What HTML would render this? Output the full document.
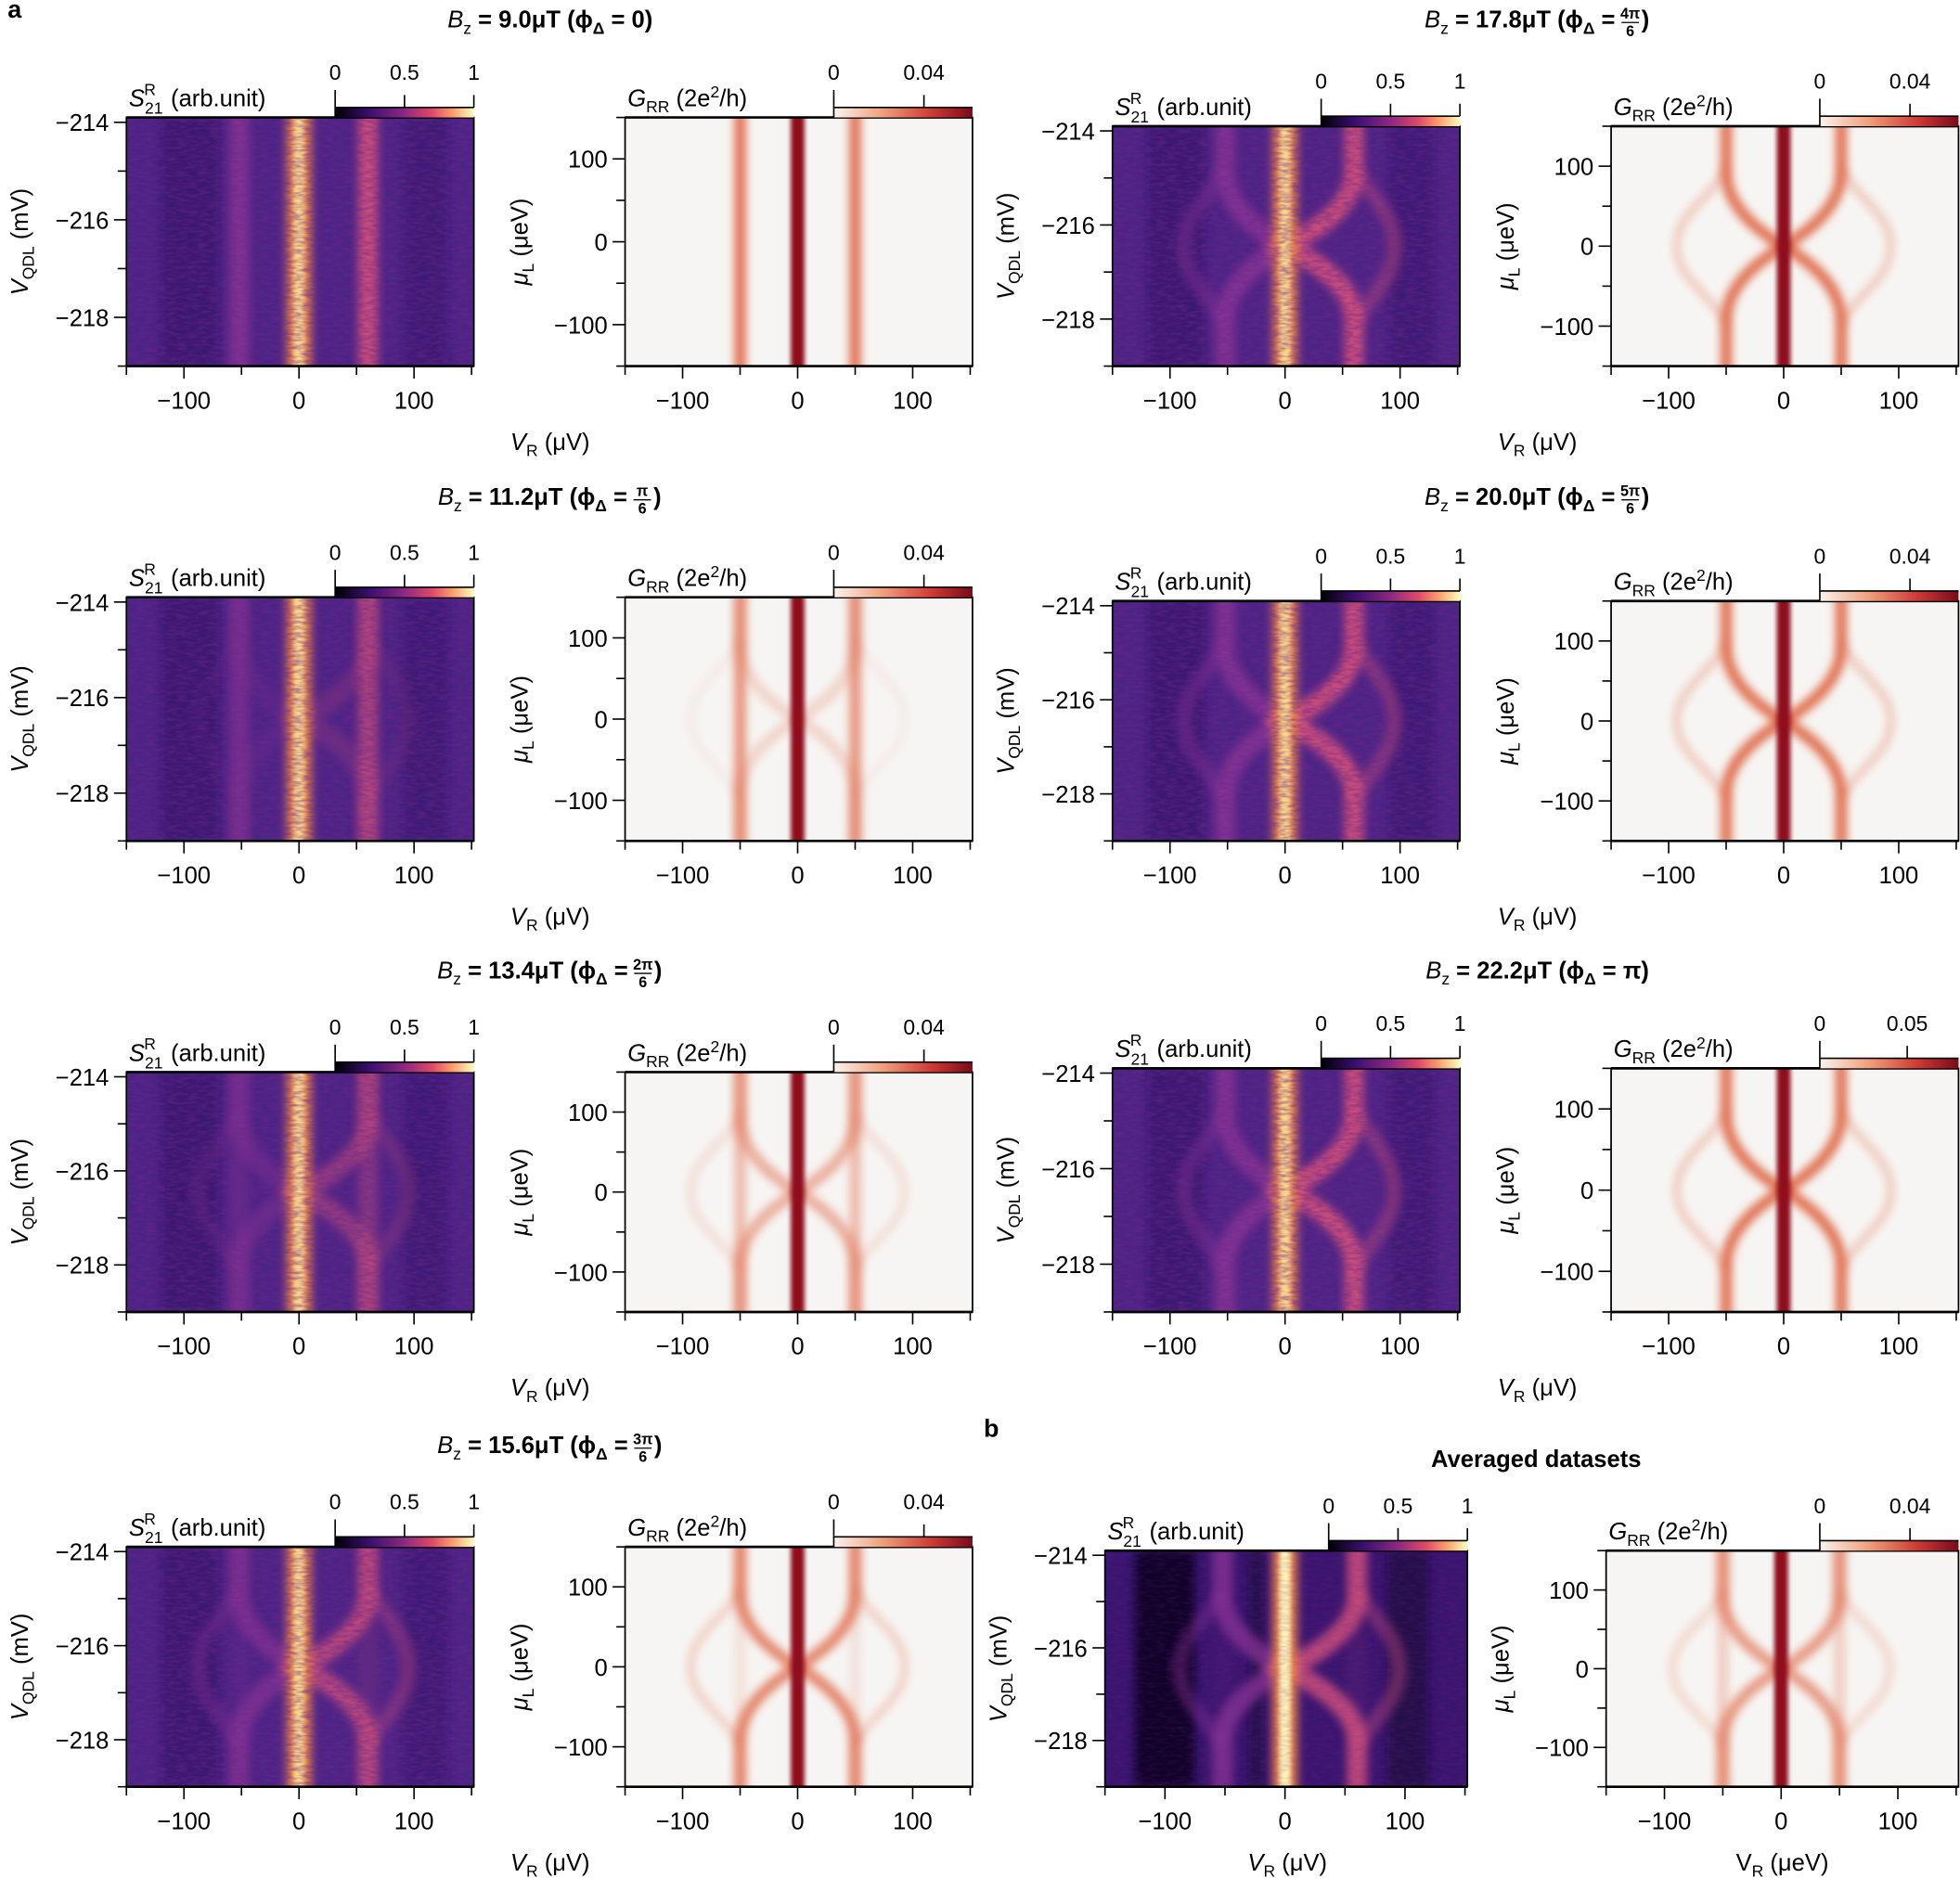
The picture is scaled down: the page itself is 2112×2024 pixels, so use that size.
<!DOCTYPE html>
<html><head><meta charset="utf-8"><style>
html,body{margin:0;padding:0;background:#fff;}
svg{display:block;font-family:"Liberation Sans",Arial,sans-serif;}
</style></head><body>
<svg id="s" xmlns="http://www.w3.org/2000/svg" width="2112" height="2024" viewBox="0 0 1568 1503">
<defs>
<linearGradient id="magma" x1="0" x2="1" y1="0" y2="0">
<stop offset="0" stop-color="#000004"/><stop offset="0.25" stop-color="#3b0f70"/><stop offset="0.5" stop-color="#8c2981"/><stop offset="0.7" stop-color="#de4968"/><stop offset="0.85" stop-color="#fe9f6d"/><stop offset="1" stop-color="#fcfdbf"/>
</linearGradient>
<linearGradient id="reds" x1="0" x2="1" y1="0" y2="0">
<stop offset="0" stop-color="#fbf3ee"/><stop offset="0.35" stop-color="#f0a07c"/><stop offset="0.7" stop-color="#cf3b35"/><stop offset="1" stop-color="#7a0a1a"/>
</linearGradient>
<filter id="bl" filterUnits="userSpaceOnUse" x="0" y="0" width="1568" height="1503"><feGaussianBlur stdDeviation="3.5"/></filter>
<filter id="bl2" filterUnits="userSpaceOnUse" x="0" y="0" width="1568" height="1503"><feGaussianBlur stdDeviation="1.8"/></filter>
<filter id="nz" x="0" y="0" width="100%" height="100%">
<feTurbulence type="fractalNoise" baseFrequency="0.12 0.45" numOctaves="2" seed="3"/>
<feColorMatrix type="matrix" values="0 0 0 0 0.15  0 0 0 0 0.02  0 0 0 0 0.25  0 0 0 1.3 -0.45"/>
</filter>
</defs>
<g id="root"></g>
</svg>
<script>
const NS="http://www.w3.org/2000/svg";
const root=document.getElementById('root');
let uid=0;
function el(tag,attrs,parent,text){const e=document.createElementNS(NS,tag);for(const k in attrs)e.setAttribute(k,attrs[k]);if(text!==undefined)e.textContent=text;(parent||root).appendChild(e);return e;}
function htmlText(x,y,html,attrs){const t=el('text',Object.assign({x:x,y:y},attrs||{}));t.innerHTML=html;return t;}

function panel(x0,top,w,bot,type,s,avg){
  const h=bot-top;
  const id='c'+(uid++);
  const cp=el('clipPath',{id:id});el('rect',{x:x0,y:top,width:w,height:h},cp);
  const g=el('g',{'clip-path':'url(#'+id+')'});
  const px=v=>x0+(v+150)/302*w;
  const py=t=>top+(t+1)/2*h;
  const P=(a,b)=>px(a).toFixed(1)+','+py(b).toFixed(1);
  function sides(list,outW,outOp){
    for(const [side,sg,col,op,wid,outerX] of list){
      const xs=v=>v*sg;
      if(1-s>0.01) el('path',{d:`M${P(xs(side),-1.1)} L${P(xs(side),1.1)}`,stroke:col,'stroke-width':wid,fill:'none',opacity:op*(1-s),filter:'url(#bl)'},g);
      if(s>0.01){
        const inner=`M${P(xs(side),-1.1)} L${P(xs(side),-0.6)} C${P(xs(side*0.97),-0.3)} ${P(xs(side*0.35),-0.1)} ${P(0,0)} C${P(xs(side*0.35),0.1)} ${P(xs(side*0.97),0.3)} ${P(xs(side),0.6)} L${P(xs(side),1.1)}`;
        el('path',{d:inner,stroke:col,'stroke-width':wid,fill:'none',opacity:op*s,filter:'url(#bl)'},g);
        const outer=`M${P(xs(side),-0.65)} C${P(xs(side*1.25),-0.4)} ${P(xs(outerX),-0.28)} ${P(xs(outerX),0)} C${P(xs(outerX),0.28)} ${P(xs(side*1.25),0.4)} ${P(xs(side),0.65)}`;
        el('path',{d:outer,stroke:col,'stroke-width':outW,fill:'none',opacity:outOp*s,filter:'url(#bl)'},g);
      }
    }
  }
  if(type==='G'){
    el('rect',{x:x0,y:top,width:w,height:h,fill:'#f7f5f3'},g);
    sides([[50,-1,'#e06e50',1,9,93],[50,1,'#e06e50',1,9,93]],6,0.35);
    el('rect',{x:px(0)-5.5,y:top-5,width:11,height:h+10,fill:'#8f0f1e',filter:'url(#bl2)'},g);
  } else {
    el('rect',{x:x0,y:top,width:w,height:h,fill:avg?'#3a1570':'#4c2485'},g);
    if(avg){
      el('rect',{x:px(-125),y:top,width:px(-75)-px(-125),height:h,fill:'#0e0620',filter:'url(#bl)',opacity:0.9},g);
      el('rect',{x:px(85),y:top,width:px(120)-px(85),height:h,fill:'#1a0a3a',filter:'url(#bl)',opacity:0.7},g);
      el('rect',{x:px(-30),y:top,width:px(-18)-px(-30),height:h,fill:'#1a0a3a',filter:'url(#bl)',opacity:0.7},g);
    } else {
      el('rect',{x:px(-120),y:top,width:px(-70)-px(-120),height:h,fill:'#2c1060',filter:'url(#bl)',opacity:0.5},g);
      el('rect',{x:px(90),y:top,width:px(130)-px(90),height:h,fill:'#2c1060',filter:'url(#bl)',opacity:0.4},g);
    }
    sides([[52,-1,'#8a3596',0.85,16,88],[60,1,'#cf4f7c',0.95,16,95]],12,0.45);
    el('rect',{x:px(0)-10,y:top-5,width:20,height:h+10,fill:'#e8804a',filter:'url(#bl)'},g);
    el('rect',{x:px(0)-4.5,y:top-5,width:9,height:h+10,fill:avg?'#fdf3b8':'#fbd48a',filter:'url(#bl2)'},g);
    el('rect',{x:x0,y:top,width:w,height:h,filter:'url(#nz)',opacity:avg?0.3:0.85},g);
  }
  el('rect',{x:x0,y:top,width:w,height:h,fill:'none',stroke:'#000','stroke-width':1.3});
  el('line',{x1:x0,y1:top,x2:x0+w,y2:top,stroke:'#000','stroke-width':2});
  el('line',{x1:x0,y1:bot,x2:x0+w,y2:bot,stroke:'#000','stroke-width':2});
  for(let v=-150;v<=150;v+=50){
    const X=px(v);const major=(v%100===0);
    el('line',{x1:X,y1:bot,x2:X,y2:bot+(major?10:7),stroke:'#000','stroke-width':1.2});
    if(major) el('text',{x:X,y:bot+34,'font-size':19,'text-anchor':'middle'},undefined,(v<0?'\u2212':'')+Math.abs(v));
  }
  if(type==='G'){
    for(let m=-150;m<=150;m+=50){
      const Y=top+(150-m)/300*h;const major=(m%100===0);
      el('line',{x1:x0,y1:Y,x2:x0-(major?10:7),y2:Y,stroke:'#000','stroke-width':1.2});
      if(major) el('text',{x:x0-14,y:Y+7,'font-size':19,'text-anchor':'end'},undefined,(m<0?'\u2212':'')+Math.abs(m));
    }
    htmlText(x0+2,top-9,'<tspan font-style="italic">G</tspan><tspan font-size="13" dy="5">RR</tspan><tspan dy="-5"> (2e</tspan><tspan font-size="13" dy="-7">2</tspan><tspan dy="7">/h)</tspan>',{'font-size':19});
    const cx=x0-85,cy=(top+bot)/2;
    htmlText(cx,cy+7,'<tspan font-style="italic">μ</tspan><tspan font-size="13" dy="5">L</tspan><tspan dy="-5"> (μeV)</tspan>',{'font-size':19,'text-anchor':'middle',transform:`rotate(-90 ${cx} ${cy})`});
  } else {
    for(let V=-214;V>=-219;V-=1){
      const Y=top+(-213.9-V)/5.1*h;const major=(V%2===0);
      el('line',{x1:x0,y1:Y,x2:x0-(major?10:7),y2:Y,stroke:'#000','stroke-width':1.2});
      if(major) el('text',{x:x0-14,y:Y+7,'font-size':19,'text-anchor':'end'},undefined,'\u2212'+Math.abs(V));
    }
    htmlText(x0+2,top-9,'<tspan font-style="italic">S</tspan><tspan font-size="13" dy="6">21</tspan><tspan font-size="13" dx="-15" dy="-15">R</tspan><tspan dy="9" dx="12">(arb.unit)</tspan>',{'font-size':19});
    const cx=x0-86,cy=(top+bot)/2;
    htmlText(cx,cy+7,'<tspan font-style="italic">V</tspan><tspan font-size="13" dy="5">QDL</tspan><tspan dy="-5"> (mV)</tspan>',{'font-size':19,'text-anchor':'middle',transform:`rotate(-90 ${cx} ${cy})`});
  }
  const cbx=x0+w-111,cbw=111;
  el('rect',{x:cbx,y:top-8,width:cbw,height:8,fill:type==='G'?'url(#reds)':'url(#magma)'});
  el('line',{x1:cbx,y1:top-8,x2:cbx+cbw,y2:top-8,stroke:'#000','stroke-width':1.2});
  if(type==='G'){
    const lab=avg==='5'?['0','0.05',0.63]:['0','0.04',0.65];
    el('line',{x1:cbx,y1:top-22,x2:cbx,y2:top,stroke:'#000','stroke-width':1.2});
    el('line',{x1:cbx+cbw*lab[2],y1:top-18,x2:cbx+cbw*lab[2],y2:top-8,stroke:'#000','stroke-width':1.2});
    el('text',{x:cbx,y:top-30,'font-size':17,'text-anchor':'middle'},undefined,lab[0]);
    el('text',{x:cbx+cbw*lab[2],y:top-30,'font-size':17,'text-anchor':'middle'},undefined,lab[1]);
  } else {
    for(const [f,l] of [[0,'0'],[0.5,'0.5'],[1,'1']]){
      el('line',{x1:cbx+cbw*f,y1:top-(f===0?22:18),x2:cbx+cbw*f,y2:top-(f===0?0:8),stroke:'#000','stroke-width':1.2});
      el('text',{x:cbx+cbw*f,y:top-30,'font-size':17,'text-anchor':'middle'},undefined,l);
    }
  }
}
function xlab(cx,y,unit){htmlText(cx,y,'<tspan font-style="italic">V</tspan><tspan font-size="13" dy="5">R</tspan><tspan dy="-5"> ('+unit+')</tspan>',{'font-size':19,'text-anchor':'middle'});}
function title(cx,y,B,ph){
  const g=el('g',{});
  const t=htmlText(0,y,`<tspan font-style="italic" font-weight="normal">B</tspan><tspan font-size="13" font-weight="normal" dy="5">z</tspan><tspan dy="-5"> = ${B}μT (ϕ</tspan><tspan font-size="13" dy="5">Δ</tspan><tspan dy="-5"> = </tspan>`+(ph.includes('/')?'':ph+')'),{'font-size':19,'font-weight':'bold'});
  g.appendChild(t);
  let wmain=t.getComputedTextLength();
  let total=wmain;
  if(ph.includes('/')){
    const [n,d]=ph.split('/');
    const fx=wmain+5;
    el('text',{x:fx+7,y:y-7,'font-size':12,'font-weight':'bold','text-anchor':'middle'},g,n);
    el('line',{x1:fx,y1:y-4,x2:fx+14,y2:y-4,stroke:'#000','stroke-width':1},g);
    el('text',{x:fx+7,y:y+7,'font-size':12,'font-weight':'bold','text-anchor':'middle'},g,d);
    el('text',{x:fx+16,y:y,'font-size':19,'font-weight':'bold'},g,')');
    total=fx+23;
  }
  g.setAttribute('transform',`translate(${cx-total/2},0)`);
}
el('text',{x:6,y:14,'font-size':20,'font-weight':'bold'},undefined,'a');
el('text',{x:787,y:1150,'font-size':20,'font-weight':'bold'},undefined,'b');
el('text',{x:1229,y:1174,'font-size':19,'font-weight':'bold','text-anchor':'middle'},undefined,'Averaged datasets');
const S=[0,0.25,0.55,0.85,1,1,1];
const Lrows=[[94,293,0,'9.0','0',22],[478,673,1,'11.2','π/6',404],[858,1050,2,'13.4','2π/6',783],[1238,1430,3,'15.6','3π/6',1163]];
for(const [t,b,k,B,ph,ty] of Lrows){
  panel(101,t,278,b,'S',S[k]);panel(500,t,278,b,'G',S[k]);
  title(440,ty,B,ph);xlab(440,b+67,'μV');
}
const Rrows=[[101,293,4,'17.8','4π/6',22],[481,673,5,'20.0','5π/6',404],[855,1050,6,'22.2','π',783]];
for(const [t,b,k,B,ph,ty] of Rrows){
  panel(890,t,278,b,'S',S[k]);panel(1289,t,278,b,'G',S[k],k===6?'5':undefined);
  title(1230,ty,B,ph);xlab(1230,b+67,'μV');
}
panel(884,1241,290,1430,'S',0.9,true);
panel(1285,1241,282,1430,'G',0.7);
xlab(1030,1497,'μV');
htmlText(1426,1497,'V<tspan font-size="13" dy="5">R</tspan><tspan dy="-5"> (μeV)</tspan>',{'font-size':19,'text-anchor':'middle'});
</script>
</body></html>
